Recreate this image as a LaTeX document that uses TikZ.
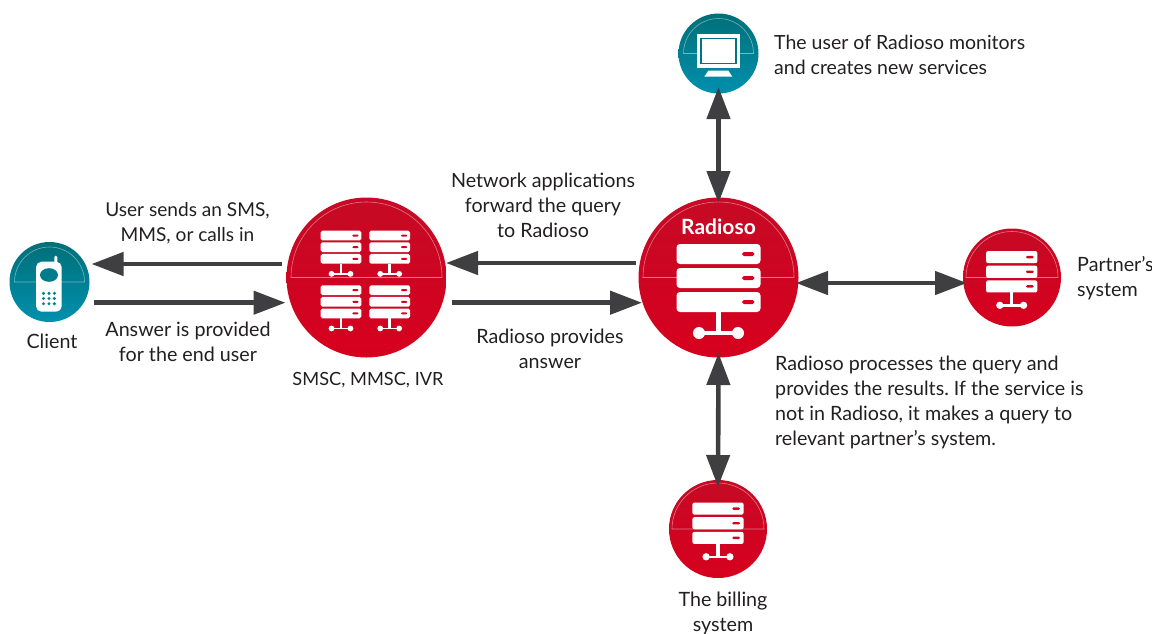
\documentclass[tikz,border=0pt]{standalone}
\usepackage{fontspec}
\setmainfont{Lato}
\usetikzlibrary{arrows.meta}
\definecolor{redT}{HTML}{C60A25}
\definecolor{redB}{HTML}{D6001E}
\definecolor{tealT}{HTML}{006F78}
\definecolor{tealB}{HTML}{0090AE}
\definecolor{arrowgrey}{HTML}{3F3F41}
\definecolor{textgrey}{HTML}{231F20}
\tikzset{
  disc/.style={circle,inner sep=0pt,outer sep=0pt,minimum size=#1,draw=none},
  reddisc/.style={disc=#1,shade,top color=redT,bottom color=redB},
  tealdisc/.style={disc=#1,shade,top color=tealT,bottom color=tealB},
  chord/.style={draw=white,draw opacity=.45,line width=.6pt},
  link/.style={draw=arrowgrey,line width=4.6pt},
  oneway/.style={link,-{Triangle[length=32pt,width=23pt]}},
  twoway/.style={link,{Triangle[length=32pt,width=23pt]}-{Triangle[length=32pt,width=23pt]}},
  label/.style={text=textgrey,font=\fontsize{19.7}{25}\selectfont\frenchspacing,inner sep=0pt},
  labelc/.style={label,align=center},
  labell/.style={label,align=left,anchor=west},
  tighter/.style={font=\fontsize{#1}{25}\selectfont\frenchspacing},
}
% #1 disc node, #2 radius
\newcommand\chordarc[2]{\draw[chord] ([xshift=-#2pt]#1.center) arc[start angle=180,end angle=0,radius=#2pt] -- cycle;}
% #1 x, #2 top y, #3 scale
\newcommand\servericon[3]{%
  \begin{scope}[shift={(#1,#2)},x=#3pt,y=-#3pt]
    \foreach \t in {0,24,48}{
      \fill[white,rounded corners=#3*3.5pt] (-42,\t) rectangle (42,\t+20);
      \fill[redB,rounded corners=#3*1.8pt] (23.5,\t+8) rectangle (36,\t+12);
    }
    \fill[white] (-2.6,68) rectangle (2.6,89);
    \fill[white] (-19.5,87) rectangle (19.5,91);
    \fill[white] (-19.5,89) circle[radius=#3*6pt];
    \fill[white] (19.5,89) circle[radius=#3*6pt];
  \end{scope}}
\begin{document}
\begin{tikzpicture}[x=1pt,y=-1pt]
\useasboundingbox (0,0) rectangle (1152,633);
% discs
\node[tealdisc=80pt] (client) at (49.5,282) {};
\node[reddisc=160pt] (smsc) at (366.5,277.5) {};
\node[reddisc=160pt] (radioso) at (718.5,277.5) {};
\node[tealdisc=80pt] (monitor) at (718.5,53.5) {};
\node[reddisc=98pt] (partner) at (1012,277.5) {};
\node[reddisc=98pt] (billing) at (718,529) {};
\chordarc{client}{35}
\chordarc{smsc}{75.5}
\chordarc{radioso}{75.5}
\chordarc{monitor}{35}
\chordarc{partner}{46}
\chordarc{billing}{46}
% server icons
\servericon{341}{230.7}{.485}
\servericon{389.7}{230.7}{.485}
\servericon{341}{285.3}{.485}
\servericon{389.7}{285.3}{.485}
\servericon{718.5}{244}{1}
\servericon{1011.7}{251}{.61}
\servericon{718}{502.5}{.61}
% phone
\fill[white,rounded corners=1.4pt] (54.3,255.7) rectangle (57.3,265);
\fill[white,rounded corners=5.5pt] (36,261.7) rectangle (61.7,311.7);
\fill[tealT!60!tealB] (49,275) ellipse[x radius=9pt,y radius=6.8pt];
\foreach \px in {43.5,49,54.4}{\foreach \py in {293.3,298.5,303.7}{
  \fill[tealT!40!tealB] (\px,\py) circle[radius=1.7pt];}}
% monitor
\fill[white] (696.7,34.3) rectangle (740,67.7);
\fill[tealT!85!tealB] (700.3,37.7) rectangle (736.7,64);
\fill[white] (701.7,39.3) rectangle (735.3,62.7);
\fill[white] (708.3,70.7) -- (728.3,70.7) -- (732.3,76.7) -- (704.3,76.7) -- cycle;
% connectors
\draw[oneway] ([shift={(-5,-13.5)}]smsc.west) -- ([shift={(2,-18)}]client.east);
\draw[oneway] ([shift={(4,20.7)}]client.east) -- ([shift={(-1,25.2)}]smsc.west);
\draw[oneway] ([shift={(-3,-14.5)}]radioso.west) -- ([shift={(-.5,-14.5)}]smsc.east);
\draw[oneway] ([shift={(5,25.2)}]smsc.east) -- ([shift={(3.5,25.2)}]radioso.west);
\draw[twoway] ([yshift=6.5pt]monitor.south) -- ([yshift=-5.5pt]radioso.north);
\draw[twoway] ([shift={(-2.5,5.5)}]radioso.east) -- ([shift={(4,5.5)}]partner.west);
\draw[twoway] ([yshift=4.5pt]radioso.south) -- ([yshift=-7pt]billing.north);
% labels
\node[labell,tighter=19.5] (tuser) at (774,55) {The user of Radioso monitors\\and creates new services};
\node[labelc] (tnet) at (543,205.5) {Network applications\\forward the query\\to Radioso};
\node[labelc,tighter=19.1] (tsend) at (187.5,223) {User sends an SMS,\\MMS, or calls in};
\node[labelc] (tclient) at (52,341.5) {Client};
\node[labelc] (tans) at (188,342) {Answer is provided\\for the end user};
\node[labelc,tighter=18.2] (tsmsc) at (368,380.5) {SMSC, MMSC, IVR};
\node[labelc] (tprov) at (550,349) {Radioso provides\\answer};
\node[labelc,text=white,font=\fontsize{21}{25}\selectfont\bfseries] (tradioso) at (718.5,226.5) {Radioso};
\node[labell] (tproc) at (775,402.5) {Radioso processes the query and\\provides the results. If the service is\\not in Radioso, it makes a query to\\relevant partner’s system.};
\node[labell] (tpart) at (1077,278.5) {Partner’s\\system};
\node[labelc] (tbill) at (723,613) {The billing\\system};
\end{tikzpicture}
\end{document}
